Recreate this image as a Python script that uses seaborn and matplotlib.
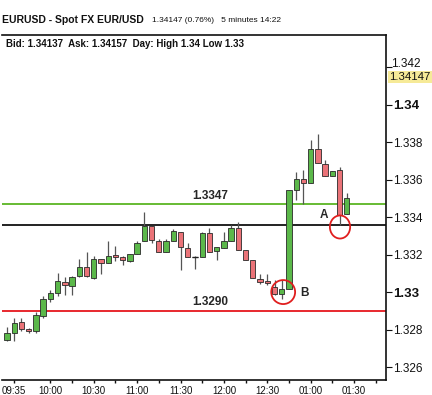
import numpy as np
import pandas as pd
import matplotlib
matplotlib.use("Agg")
import matplotlib.pyplot as plt
from matplotlib.patches import Ellipse
from matplotlib.transforms import blended_transform_factory
import seaborn as sns

# ---------------- data ----------------
opens = [1.32744, 1.32781, 1.32840, 1.32803, 1.32792, 1.32872, 1.32963, 1.32995,
         1.33053, 1.33032, 1.33085, 1.33133, 1.33075, 1.33176, 1.33155, 1.33197,
         1.33187, 1.33165, 1.33203, 1.33272, 1.33352, 1.33272, 1.33213, 1.33272,
         1.33320, 1.33235, 1.33187, 1.33187, 1.33315, 1.33217, 1.33236, 1.33272,
         1.33343, 1.33222, 1.33169, 1.33071, 1.33057, 1.33027, 1.32991, 1.33018,
         1.33542, 1.33604, 1.33583, 1.33764, 1.33684, 1.33617, 1.33649, 1.33414]
highs = [1.32813, 1.32861, 1.32861, 1.32806, 1.32893, 1.32979, 1.33011, 1.33101,
         1.33080, 1.33085, 1.33176, 1.33213, 1.33192, 1.33176, 1.33272, 1.33245,
         1.33190, 1.33203, 1.33272, 1.33427, 1.33352, 1.33283, 1.33283, 1.33336,
         1.33320, 1.33261, 1.33192, 1.33320, 1.33340, 1.33240, 1.33320, 1.33356,
         1.33373, 1.33222, 1.33169, 1.33098, 1.33098, 1.33062, 1.33066, 1.33542,
         1.33640, 1.33649, 1.33809, 1.33844, 1.33702, 1.33645, 1.33667, 1.33528]
lows = [1.32740, 1.32739, 1.32792, 1.32781, 1.32781, 1.32860, 1.32947, 1.32979,
        1.32984, 1.32984, 1.33080, 1.33080, 1.33070, 1.33096, 1.33155, 1.33165,
        1.33144, 1.33160, 1.33203, 1.33272, 1.33261, 1.33213, 1.33213, 1.33272,
        1.33117, 1.33187, 1.33123, 1.33187, 1.33213, 1.33169, 1.33236, 1.33272,
        1.33222, 1.33169, 1.33076, 1.33044, 1.33036, 1.32982, 1.32964, 1.33018,
        1.33489, 1.33471, 1.33583, 1.33688, 1.33617, 1.33617, 1.33356, 1.33414]
closes = [1.32781, 1.32835, 1.32803, 1.32792, 1.32877, 1.32963, 1.32995, 1.33059,
          1.33037, 1.33080, 1.33133, 1.33085, 1.33176, 1.33155, 1.33192, 1.33187,
          1.33171, 1.33203, 1.33261, 1.33352, 1.33277, 1.33213, 1.33272, 1.33325,
          1.33240, 1.33187, 1.33188, 1.33315, 1.33213, 1.33240, 1.33272, 1.33343,
          1.33222, 1.33169, 1.33076, 1.33053, 1.33050, 1.32991, 1.33014, 1.33542,
          1.33604, 1.33583, 1.33764, 1.33688, 1.33617, 1.33645, 1.33409, 1.33503]

x_tick_pos = [1, 6, 12, 18, 24, 30, 36, 42, 48]
x_tick_labels = ["09:35", "10:00", "10:30", "11:00", "11:30", "12:00", "12:30", "01:00", "01:30"]
x_minor_pos = [9, 15, 21, 27, 33, 39, 45, 51]

y_ticks = [1.326, 1.328, 1.330, 1.332, 1.334, 1.336, 1.338, 1.340, 1.342]
y_tick_labels = ["1.326", "1.328", "1.33", "1.332", "1.334", "1.336", "1.338", "1.34", "1.342"]

resistance = 1.3347
support = 1.3290
pivot = 1.33355
last_price = 1.34147

df = pd.DataFrame({"open": opens, "high": highs, "low": lows, "close": closes})
df["idx"] = np.arange(len(df))
df["up"] = df["close"] >= df["open"]

# ---------------- figure ----------------
sns.set_style("white")
plt.rcParams["font.family"] = ["Liberation Sans", "DejaVu Sans"]

fig = plt.figure(figsize=(4.32, 3.95), dpi=100)
ax = fig.add_axes([2 / 432, 1 - 380 / 395, (386 - 2) / 432, (380 - 35) / 395])

GREEN_FILL = "#5bb84a"
RED_FILL = "#ea7378"
EDGE = "#2a2a2a"

# wicks
ax.vlines(df["idx"], df["low"], df["high"], color="#555555", lw=0.9, zorder=2)
# bodies
body_bottom = np.minimum(df["open"], df["close"])
body_h = np.abs(df["close"] - df["open"])
colors = [GREEN_FILL if u else RED_FILL for u in df["up"]]
ax.bar(df["idx"], body_h, bottom=body_bottom, width=0.74, color=colors,
       edgecolor=EDGE, linewidth=0.6, zorder=3)
# doji markers
for i, h in zip(df["idx"], body_h):
    if h < 0.00003:
        ax.hlines(df["open"][i], i - 0.4, i + 0.4, color="#222222", lw=1.0, zorder=4)

# horizontal lines
ax.axhline(resistance, color="#66bb33", lw=1.4, zorder=1)
ax.axhline(pivot, color="#111111", lw=1.3, zorder=1)
ax.axhline(support, color="#e8282e", lw=1.4, zorder=1)

# annotations
ax.text(28.1, 1.33512, "1.3347", ha="center", va="center", fontsize=8.5, fontweight="bold")
ax.text(28.1, 1.32947, "1.3290", ha="center", va="center", fontsize=8.5, fontweight="bold")
ax.text(43.8, 1.33411, "A", ha="center", va="center", fontsize=8.5, fontweight="bold")
ax.text(41.2, 1.32995, "B", ha="center", va="center", fontsize=8.5, fontweight="bold")

ax.add_patch(Ellipse((38.2, 1.33), 3.3, 0.00128, fill=False, edgecolor="#e01e1e", lw=1.3, zorder=5))
ax.add_patch(Ellipse((46.06, 1.33347), 2.8, 0.00123, fill=False, edgecolor="#e01e1e", lw=1.3, zorder=5))

# axes limits
ax.set_xlim(-0.69, 52.42)
ax.set_ylim(1.32531, 1.34371)

# spines
for s in ["top", "right", "bottom"]:
    ax.spines[s].set_visible(True)
    ax.spines[s].set_color("#111111")
    ax.spines[s].set_linewidth(1.2)
ax.spines["left"].set_visible(False)

# y axis on right
ax.yaxis.tick_right()
ax.set_yticks(y_ticks)
ax.set_yticklabels([("" if t == "1.342" else t) for t in y_tick_labels])
ax.tick_params(axis="y", which="major", direction="out", length=4, width=0.8,
               pad=1, labelsize=8.5, colors="#111111", right=True, left=False)
for lab in ax.get_yticklabels():
    if lab.get_text() in ("1.33", "1.34"):
        lab.set_fontweight("bold")
        lab.set_fontsize(9.5)

trans = blended_transform_factory(ax.transAxes, ax.transData)
# top tick label, nudged up slightly to clear the last-price box (as in the reference)
ax.text(1.0 + 5 / 384, 1.34214, "1.342", transform=trans, ha="left", va="center",
        fontsize=8.5, color="#111111", clip_on=False)

# x axis
ax.set_xticks(x_tick_pos)
ax.set_xticklabels(x_tick_labels)
ax.set_xticks(x_minor_pos, minor=True)
ax.tick_params(axis="x", which="both", direction="out", length=2, width=1,
               pad=2, labelsize=7, colors="#111111", bottom=True)
ax.set_xlabel("")
ax.set_ylabel("")

# last price box
ax.text(1.008, last_price, "1.34147", transform=trans, ha="left", va="center",
        fontsize=8.2, color="#111111",
        bbox=dict(boxstyle="square,pad=0.1", facecolor="#f6ea98", edgecolor="none"),
        clip_on=False)

# header texts
fig.text(2 / 432, 1 - 20 / 395, "EURUSD - Spot FX EUR/USD", ha="left", va="center",
         fontsize=7.5, fontweight="bold", color="#111111")
fig.text(152 / 432, 1 - 20 / 395, "1.34147 (0.76%)   5 minutes 14:22", ha="left", va="center",
         fontsize=6.0, color="#111111")
fig.text(6 / 432, 1 - 44 / 395, "Bid: 1.34137  Ask: 1.34157  Day: High 1.34 Low 1.33",
         ha="left", va="center", fontsize=7, fontweight="bold", color="#111111")

fig.savefig("out.png", dpi=100)
